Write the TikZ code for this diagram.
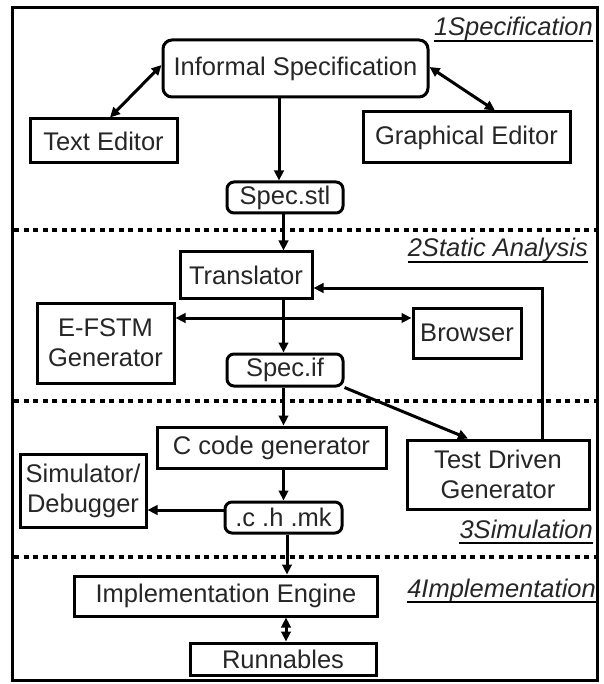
\documentclass[tikz,border=0pt]{standalone}
\usepackage{fontspec}
\setmainfont{Liberation Sans}
\usetikzlibrary{arrows.meta}
\begin{document}
\begin{tikzpicture}[x=1pt,y=-1pt,
  every node/.style={font=\fontsize{25.5}{30}\selectfont, text=black!85},
  box/.style={draw=black, line width=3pt, inner sep=0pt, align=center},
  rbox/.style={box, rounded corners=9pt},
  conn/.style={line width=3pt, draw=black},
  arr/.style={conn, -{Triangle[length=10pt,width=9.5pt]}},
  dbl/.style={conn, {Triangle[length=10pt,width=9.5pt]}-{Triangle[length=10pt,width=9.5pt]}},
  sep/.style={line width=4pt, dash pattern=on 5pt off 4.5pt},
  lbl/.style={font=\fontsize{25.5}{30}\selectfont\itshape, inner sep=0pt, anchor=base east}
]
\useasboundingbox (0,0) rectangle (603,684);
\fill[white] (0,0) rectangle (603,684);
% frame
\draw[line width=3pt] (12.5,7.5) rectangle (597,680.5);
% separators
\draw[sep] (14,230) -- (596,230);
\draw[sep] (14,400.5) -- (596,400.5);
\draw[sep] (14,557) -- (596,557);
% section labels
\node[lbl] (l1) at (593,36) {1Specification};
\node[lbl] (l2) at (588,257) {2Static Analysis};
\node[lbl] (l3) at (593,538) {3Simulation};
\node[lbl] (l4) at (596,597) {4Implementation};
\foreach \l in {l1,l2,l3,l4}
  \draw[line width=1.4pt] ([yshift=-5pt]\l.base west) -- ([yshift=-5pt]\l.base east);
% nodes
\node[rbox, minimum width=265pt, minimum height=57pt] (inf) at (295.5,68.5) {Informal Specification};
\node[box, minimum width=147pt, minimum height=44pt] (te) at (103.5,141) {Text Editor};
\node[box, minimum width=207pt, minimum height=51pt] (ge) at (466.5,137.5) {Graphical Editor};
\node[rbox, rounded corners=7pt, minimum width=116pt, minimum height=31pt] (stl) at (285,197.5) {Spec.stl};
\node[box, minimum width=132pt, minimum height=46pt] (tr) at (246,275) {Translator};
\node[box, minimum width=137pt, minimum height=80pt] (ef) at (105.5,343) {E-FSTM\\Generator};
\node[box, minimum width=108pt, minimum height=50pt] (br) at (467,333) {Browser};
\node[rbox, rounded corners=7pt, minimum width=116pt, minimum height=32pt] (sif) at (285,370) {Spec.if};
\node[box, minimum width=229pt, minimum height=41pt] (cc) at (271.5,447.5) {C code generator};
\node[box, minimum width=182pt, minimum height=69pt] (td) at (498,474.5) {Test Driven\\Generator};
\node[box, minimum width=126pt, minimum height=73pt] (sim) at (83,490.5) {Simulator/\\Debugger};
\node[rbox, rounded corners=7pt, minimum width=117pt, minimum height=31pt] (chm) at (283.5,517.5) {.c .h .mk};
\node[box, minimum width=303pt, minimum height=40pt] (ie) at (226,596) {Implementation Engine};
\node[box, minimum width=186pt, minimum height=32pt] (run) at (283,659) {Runnables};
% helper coordinates
\coordinate (sp) at (283.5,0);
\coordinate (hl) at (0,318);
\coordinate (sp2) at (287,0);
\coordinate (sp3) at (286,0);
% connectors
\draw[dbl] ([xshift=6.5pt]te.north) -- ([yshift=3.5pt]inf.west);
\draw[dbl] ([yshift=1.5pt]inf.east) -- ([xshift=28.5pt]ge.north);
\draw[arr] ([xshift=-16.5pt]inf.south) -- ([xshift=-6pt]stl.north);
\draw[arr] (stl.south -| sp) -- (tr.north -| sp);
\draw[arr] (tr.south -| sp) -- (sif.north -| sp);
\draw[dbl] (ef.east |- hl) -- (br.west |- hl);
\draw[arr] (sif.south -| sp) -- (cc.north -| sp);
\draw[arr] (sif.south east) -- ([xshift=-30pt]td.north);
\draw[arr] ([xshift=44pt]td.north) |- ([yshift=-13pt]tr.east);
\draw[arr] (cc.south -| sp) -- (chm.north -| sp);
\draw[arr] ([yshift=7.5pt]chm.west) -- ([yshift=7.5pt]chm.west -| sim.east);
\draw[arr] (chm.south -| sp2) -- (ie.north -| sp2);
\draw[dbl] (ie.south -| sp3) -- (run.north -| sp3);
\end{tikzpicture}
\end{document}
